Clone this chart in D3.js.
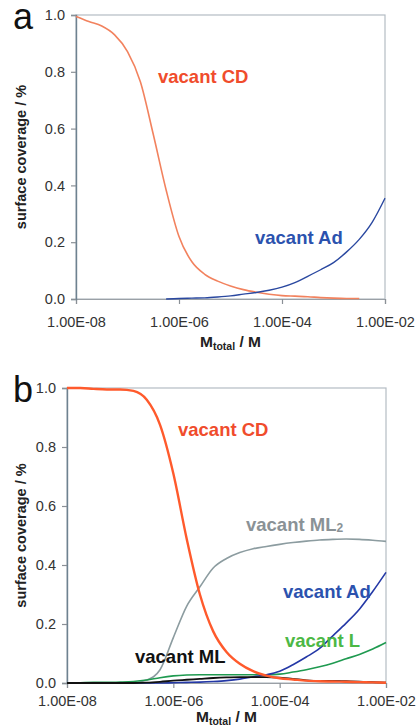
<!DOCTYPE html>
<html>
<head>
<meta charset="utf-8">
<script src="https://cdn.jsdelivr.net/npm/d3@7"></script>
<style>
  body { margin: 0; background: #fff; }
  text { font-family: "Liberation Sans", Arial, sans-serif; }
</style>
</head>
<body>
<main></main>
<script>
// log10 of total concentration, shared by every series
var logM = [-8, -7.75, -7.5, -7.25, -7, -6.75, -6.5, -6.25, -6, -5.75, -5.5, -5.25,
            -5, -4.75, -4.5, -4.25, -4, -3.75, -3.5, -3.25, -3, -2.75, -2.5, -2.25, -2];

var xTicks = [1e-8, 1e-6, 1e-4, 1e-2];
var xTickLabels = ['1.00E-08', '1.00E-06', '1.00E-04', '1.00E-02'];
var yTicks = [0, 0.2, 0.4, 0.6, 0.8, 1.0];

// panel a
var aCD = [0.995, 0.977, 0.961, 0.93, 0.871, 0.765, 0.58, 0.384, 0.22, 0.131, 0.087, 0.063,
           0.046, 0.033, 0.024, 0.017, 0.012, 0.01, 0.008, 0.005, 0.003, 0.002, 0.002, null, null];
var aAd = [null, null, null, null, null, null, null, 0.0, 0.002, 0.003, 0.004, 0.007,
           0.011, 0.017, 0.023, 0.031, 0.042, 0.058, 0.08, 0.103, 0.128, 0.165, 0.21, 0.27, 0.355];

// panel b
var bCD = [1.0, 1.0, 0.997, 0.995, 0.995, 0.99, 0.96, 0.875, 0.71, 0.49, 0.30, 0.175,
           0.105, 0.065, 0.04, 0.025, 0.016, 0.012, 0.008, 0.006, 0.005, 0.004, 0.003, 0.002, 0.001];
var bML2 = [0, 0, 0, 0, 0, 0.001, 0.01, 0.045, 0.154, 0.26, 0.326, 0.39,
            0.422, 0.442, 0.455, 0.463, 0.47, 0.476, 0.481, 0.485, 0.487, 0.488, 0.487, 0.484, 0.48];
var bAd = [0, 0, 0, 0, 0, 0, 0, 0, 0.001, 0.002, 0.003, 0.005,
           0.008, 0.013, 0.021, 0.028, 0.04, 0.062, 0.088, 0.117, 0.16, 0.203, 0.25, 0.31, 0.375];
var bL = [0, 0.001, 0.002, 0.002, 0.003, 0.005, 0.01, 0.018, 0.024, 0.027, 0.028, 0.028,
          0.028, 0.028, 0.028, 0.028, 0.03, 0.037, 0.045, 0.055, 0.067, 0.082, 0.097, 0.115, 0.137];
var bML = [0, 0, 0, 0, 0, 0, 0.001, 0.004, 0.008, 0.011, 0.014, 0.017,
           0.019, 0.02, 0.02, 0.02, 0.018, 0.014, 0.009, 0.007, 0.007, 0.006, 0.005, 0.003, 0.001];

!function(){
    var W = 418, H = 727;

    let svg = d3.select('main').append('svg')
        .attr('width', W)
        .attr('height', H);

    const panels = [
        {
            letter: 'a', left: 76, right: 385, top: 15, bottom: 299,
            xPad: 12.7, titleY: 347,
            series: [
                { values: aCD, color: '#f2825e', width: 1.6 },
                { values: aAd, color: '#2a48a0', width: 1.4 }
            ],
            labels: [
                { text: 'vacant CD', x: 158, y: 83, color: '#f04c2c' },
                { text: 'vacant Ad', x: 255, y: 244, color: '#2b52ae' }
            ]
        },
        {
            letter: 'b', left: 67, right: 386, top: 388, bottom: 683,
            xPad: 7.7, titleY: 722,
            series: [
                { values: bML2, color: '#8c9ca0', width: 1.6 },
                { values: bL, color: '#1f9a50', width: 1.6 },
                { values: bAd, color: '#2438a6', width: 1.6 },
                { values: bML, color: '#111111', width: 1.8 },
                { values: bCD, color: '#ff5a2c', width: 2.4 }
            ],
            labels: [
                { text: 'vacant CD', x: 178, y: 436, color: '#f04c2c' },
                { text: 'vacant ML', sub: '2', x: 246, y: 531, color: '#8a9296' },
                { text: 'vacant Ad', x: 283, y: 598, color: '#2b52ae' },
                { text: 'vacant L', x: 285, y: 647, color: '#4cb845' },
                { text: 'vacant ML', x: 135, y: 663, color: '#111111' }
            ]
        }
    ];

    const drawPanel = (p) => {
        let xScale = d3.scaleLog().domain([1e-8, 1e-2]).range([p.left, p.right]);
        let yScale = d3.scaleLinear().domain([0, 1]).range([p.bottom, p.top]);

        let g = svg.append('g');

        // plot frame
        g.append('rect')
            .attr('x', p.left)
            .attr('y', p.top)
            .attr('width', p.right - p.left)
            .attr('height', p.bottom - p.top)
            .attr('fill', 'none')
            .attr('stroke', '#b4bcc4')
            .attr('stroke-width', 1.2);

        var xAxis = d3.axisBottom(xScale)
            .tickValues(xTicks)
            .tickFormat((d, i) => xTickLabels[i])
            .tickSize(5)
            .tickPadding(p.xPad);
        var yAxis = d3.axisLeft(yScale)
            .tickValues(yTicks)
            .tickFormat(d3.format('.1f'))
            .tickSize(5)
            .tickPadding(6);

        let gx = g.append('g')
            .attr('transform', 'translate(0,' + p.bottom + ')')
            .call(xAxis);
        let gy = g.append('g')
            .attr('transform', 'translate(' + p.left + ',0)')
            .call(yAxis);

        gx.select('.domain').attr('stroke', '#9aa0a6').attr('stroke-width', 1.2);
        gy.select('.domain').attr('stroke', '#6e8290').attr('stroke-width', 1.4);
        [gx, gy].forEach(a => {
            a.selectAll('.tick line').attr('stroke', '#8a9096').attr('stroke-width', 1.2);
            a.selectAll('.tick text')
                .attr('fill', '#333')
                .style('font-size', '14.5px')
                .style('font-family', '"Liberation Sans", Arial, sans-serif');
        });

        let line = d3.line()
            .defined(d => d[1] !== null)
            .x(d => xScale(Math.pow(10, d[0])))
            .y(d => yScale(d[1]))
            .curve(d3.curveMonotoneX);

        p.series.forEach(s => {
            g.append('path')
                .datum(logM.map((m, i) => [m, s.values[i]]))
                .attr('fill', 'none')
                .attr('stroke', s.color)
                .attr('stroke-width', s.width)
                .attr('stroke-linejoin', 'round')
                .attr('d', line);
        });

        p.labels.forEach(l => {
            let t = g.append('text')
                .attr('x', l.x)
                .attr('y', l.y)
                .attr('fill', l.color)
                .style('font-size', '18.5px')
                .style('font-weight', 'bold')
                .text(l.text);
            if (l.sub) {
                t.append('tspan')
                    .attr('dy', 1)
                    .style('font-size', '12px')
                    .text(l.sub);
            }
        });

        // panel letter
        g.append('text')
            .attr('x', 13)
            .attr('y', p.top + 14)
            .style('font-size', '36px')
            .attr('fill', '#111')
            .text(p.letter);

        // axis titles
        g.append('text')
            .attr('transform', 'translate(26,' + (p.top + p.bottom) / 2 + ') rotate(-90)')
            .attr('text-anchor', 'middle')
            .attr('fill', '#222')
            .style('font-size', '14.5px')
            .style('font-weight', 'bold')
            .text('surface coverage / %');

        let xt = g.append('text')
            .attr('x', (p.left + p.right) / 2 + 0)
            .attr('y', p.titleY)
            .attr('text-anchor', 'middle')
            .attr('fill', '#222')
            .style('font-size', '15.5px')
            .style('font-weight', 'bold');
        xt.append('tspan').text('M');
        xt.append('tspan').attr('dy', 3).style('font-size', '10.5px').text('total');
        xt.append('tspan').attr('dy', -3).text(' / M');
    };

    panels.forEach(drawPanel);
}();
</script>
</body>
</html>
